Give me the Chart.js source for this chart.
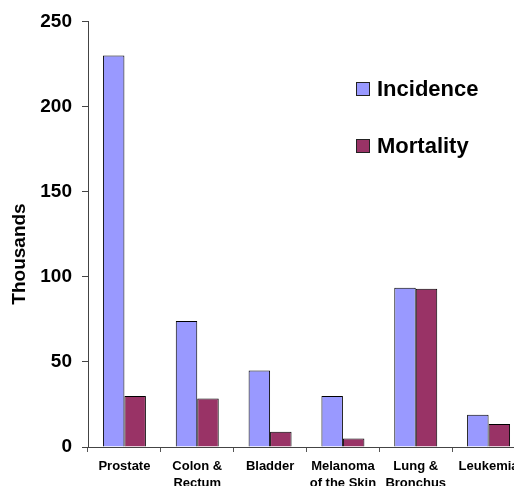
<!DOCTYPE html>
<html>
<head>
<meta charset="utf-8">
<script src="https://cdn.jsdelivr.net/npm/chart.js@4/dist/chart.umd.min.js"></script>
<style>
  html, body { margin: 0; padding: 0; overflow: hidden; background: #fff; }
  #wrap { position: relative; width: 530px; height: 486px; }
  #legend { position: absolute; left: 356px; top: 76px; font: bold 22px 'Liberation Sans', Arial, sans-serif; color: #000; }
  .item { display: flex; align-items: center; height: 26px; margin-bottom: 31px; }
  .box { width: 12px; height: 12px; border: 1px solid #222; margin-right: 7px; }
</style>
</head>
<body>
<div id="wrap">
  <canvas id="chart" width="530" height="486"></canvas>
  <div id="legend"></div>
</div>
<script>
// categories and values (thousands)
const categories = ['Prostate', ['Colon &', 'Rectum'], 'Bladder', ['Melanoma', 'of the Skin'], ['Lung &', 'Bronchus'], 'Leukemia'];
const incidence = [230, 74, 45, 30, 93.5, 19];
const mortality = [30, 28.5, 9, 5, 93, 13.5];
const yTicks = [0, 50, 100, 150, 200, 250];

const seriesNames = ['Incidence', 'Mortality'];
const seriesColors = ['#9999ff', '#993366'];

const FONT = "'Liberation Sans', Arial, sans-serif";

// y axis title drawn a bit below the plot middle, like the original
const yTitle = {
  id: 'yTitle',
  afterDraw(chart) {
    const ctx = chart.ctx;
    ctx.save();
    ctx.translate(20, 254);
    ctx.rotate(-Math.PI / 2);
    ctx.font = 'bold 19px ' + FONT;
    ctx.fillStyle = '#000';
    ctx.textAlign = 'center';
    ctx.textBaseline = 'middle';
    ctx.fillText('Thousands', 0, 0);
    ctx.restore();
  }
};

const chart = new Chart(document.getElementById('chart'), {
  type: 'bar',
  data: {
    labels: categories,
    datasets: [
      { label: seriesNames[0], data: incidence, backgroundColor: seriesColors[0], borderColor: '#000', borderWidth: 1 },
      { label: seriesNames[1], data: mortality, backgroundColor: seriesColors[1], borderColor: '#000', borderWidth: 1 }
    ]
  },
  options: {
    responsive: false,
    animation: false,
    categoryPercentage: 0.59,
    barPercentage: 1,
    layout: { padding: { top: 20, right: 5, left: 0, bottom: 0 } },
    plugins: { legend: { display: false }, tooltip: { enabled: false } },
    scales: {
      x: {
        grid: { drawOnChartArea: false, drawTicks: true, tickLength: 5, color: '#555' },
        border: { color: '#444', width: 1 },
        ticks: {
          color: '#000', maxRotation: 0, autoSkip: false, padding: 6,
          font: { family: FONT, size: 13, weight: 'bold', lineHeight: 1.3 }
        },
        afterFit(scale) { scale.height = 39; }
      },
      y: {
        min: 0, max: 250,
        afterBuildTicks(scale) { scale.ticks = yTicks.map(v => ({ value: v })); },
        grid: { drawOnChartArea: false, drawTicks: true, tickLength: 6, color: '#444' },
        border: { color: '#444', width: 1 },
        ticks: { color: '#000', padding: 10, font: { family: FONT, size: 19, weight: 'bold' } },
        afterFit(scale) { scale.width = 88; }
      }
    }
  },
  plugins: [yTitle]
});

// legend as html
const legend = document.getElementById('legend');
chart.data.datasets.forEach(ds => {
  const item = document.createElement('div');
  item.className = 'item';
  item.innerHTML = '<span class="box" style="background:' + ds.backgroundColor + '"></span><span>' + ds.label + '</span>';
  legend.appendChild(item);
});
</script>
</body>
</html>
